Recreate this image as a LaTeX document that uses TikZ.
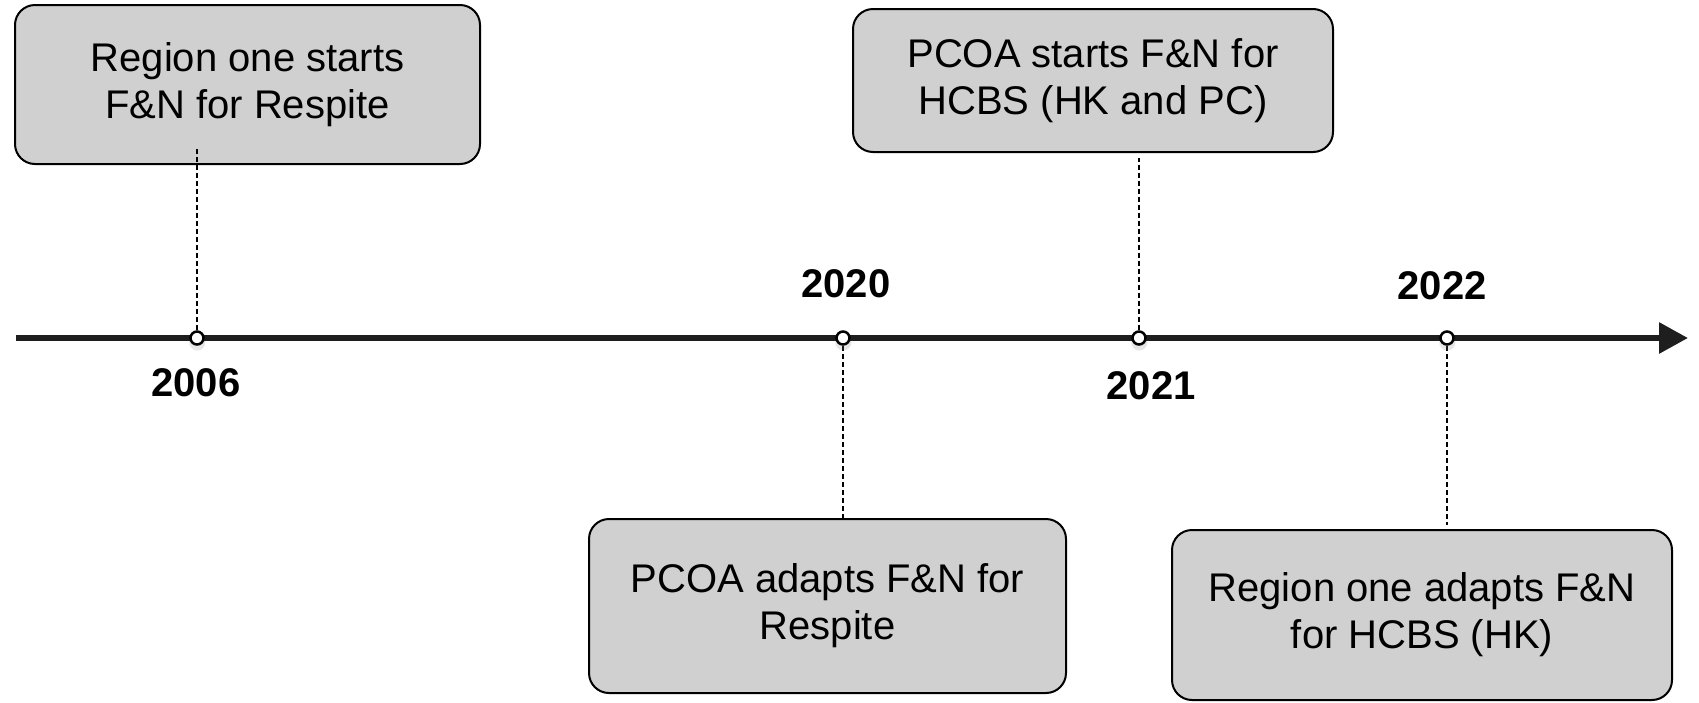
\documentclass[tikz,border=0pt]{standalone}
\usepackage{fontspec}
\setmainfont{Liberation Sans}
\usetikzlibrary{arrows.meta,shadows}
\definecolor{boxgray}{RGB}{208,208,208}
\definecolor{linecol}{RGB}{30,30,30}
\begin{document}
\begin{tikzpicture}[x=1pt,y=-1pt,
  event/.style={draw=black, line width=2pt, fill=boxgray, rounded corners=20pt,
    align=center, font=\fontsize{40}{47}\selectfont, inner sep=0pt},
  year/.style={font=\fontsize{40}{48}\selectfont\bfseries, inner sep=0pt},
  tick/.style={circle, draw=black, fill=white, line width=2.5pt, minimum size=13pt,
    inner sep=0pt, circular drop shadow={shadow xshift=0pt, shadow yshift=-3pt, opacity=0.2, shadow scale=1.35}},
  guide/.style={draw=black, line width=1.2pt, dash pattern=on 5pt off 3pt},
  axis/.style={draw=linecol, line width=6pt, -{Triangle[length=29pt,width=30pt]}}]
\useasboundingbox (0,0) rectangle (1699,702);
% event boxes
\node[event, minimum width=465pt, minimum height=159pt] (b1) at (247.5,84.5) {Region one starts\\F\&N for Respite};
\node[event, minimum width=480pt, minimum height=143pt] (b2) at (1093,80.5) {PCOA starts F\&N for\\HCBS (HK and PC)};
\node[event, minimum width=477pt, minimum height=174pt] (b3) at (827.5,606) {PCOA adapts F\&N for\\Respite};
\node[event, minimum width=500pt, minimum height=170pt] (b4) at (1422,615) {Region one adapts F\&N\\for HCBS (HK)};
% timeline
\coordinate (ts) at (16,338);
\coordinate (te) at (1688,338);
\coordinate (d1) at (197,338);
\coordinate (d2) at (843,338);
\coordinate (d3) at (1139,338);
\coordinate (d4) at (1447,338);
\coordinate (g1) at (197,148);
\coordinate (g2) at (843,518);
\coordinate (g3) at (1139,158);
\coordinate (g4) at (1447,525);
\draw[guide] (d1) -- (g1);
\draw[guide] (d2) -- (g2);
\draw[guide] (d3) -- (g3);
\draw[guide] (d4) -- (g4);
\draw[axis] (ts) -- (te);
\node[tick] (t1) at (d1) {};
\node[tick] (t2) at (d2) {};
\node[tick] (t3) at (d3) {};
\node[tick] (t4) at (d4) {};
% years
\node[year] (y1) at (196,383) {2006};
\node[year] (y2) at (846,284) {2020};
\node[year] (y3) at (1151,386) {2021};
\node[year] (y4) at (1442,286) {2022};
\end{tikzpicture}
\end{document}
